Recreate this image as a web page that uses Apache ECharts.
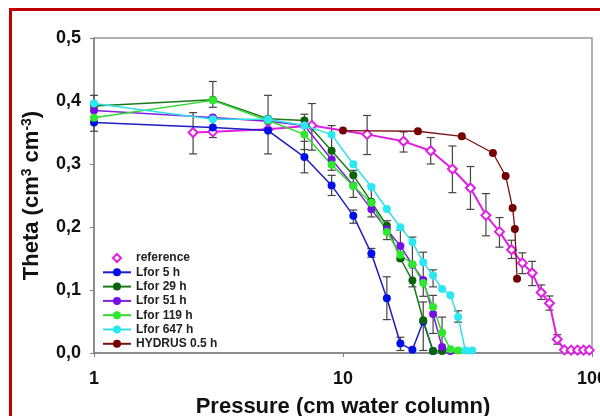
<!DOCTYPE html>
<html>
<head>
<meta charset="utf-8">
<script src="https://cdn.jsdelivr.net/npm/echarts@6/dist/echarts.min.js"></script>
<style>
  html, body { margin: 0; padding: 0; background: #fff; }
  #frame {
    position: absolute; left: 9px; top: 8px; width: 620px; height: 440px;
    border-left: 3px solid #c00000; border-top: 3px solid #c00000;
  }
  #main { position: absolute; left: 0; top: 0; width: 600px; height: 416px; }
</style>
</head>
<body>
<div id="frame"></div>
<div id="main"></div>
<script>
// pressure (cm water column) / theta (cm3 cm-3)
var refX = [2.5, 3, 5, 7.5, 12.5, 17.5, 22.5, 27.5, 32.5, 37.5, 42.5, 47.5, 52.5, 57.5, 62.5, 67.5, 72.5, 77.5, 82.5, 87.5, 92.5, 97.5];
var refY = [0.350, 0.351, 0.355, 0.361, 0.347, 0.336, 0.321, 0.292, 0.262, 0.2185, 0.1926, 0.164, 0.143, 0.127, 0.096, 0.079, 0.0217, 0.005, 0.0045, 0.0045, 0.0045, 0.0045];

var lfor5X = [1, 3, 5, 7, 9, 11, 13, 15, 17, 19, 21, 23];
var lfor5Y = [0.366, 0.358, 0.353, 0.311, 0.266, 0.218, 0.158, 0.087, 0.015, 0.005, 0.050, 0.003];

var lfor29X = [1, 3, 5, 7, 9, 11, 13, 15, 17, 19, 21, 23, 25];
var lfor29Y = [0.392, 0.402, 0.372, 0.369, 0.321, 0.282, 0.240, 0.202, 0.150, 0.115, 0.052, 0.003, 0.003];

var lfor51X = [1, 3, 5, 7, 9, 11, 13, 15, 17, 19, 21, 23, 25, 27];
var lfor51Y = [0.385, 0.374, 0.368, 0.361, 0.307, 0.266, 0.228, 0.196, 0.170, 0.140, 0.116, 0.062, 0.0095, 0.003];

var lfor119X = [1, 3, 5, 7, 9, 11, 13, 15, 17, 19, 21, 23, 25, 27, 29];
var lfor119Y = [0.3735, 0.401, 0.369, 0.347, 0.299, 0.265, 0.2386, 0.192, 0.156, 0.141, 0.111, 0.073, 0.032, 0.006, 0.004];

var lfor647X = [1, 3, 5, 7, 9, 11, 13, 15, 17, 19, 21, 23, 25, 27, 29, 31, 33];
var lfor647Y = [0.396, 0.371, 0.371, 0.361, 0.3466, 0.2995, 0.2635, 0.2286, 0.1995, 0.176, 0.144, 0.123, 0.1016, 0.0915, 0.057, 0.004, 0.004];

var hydrusX = [10, 20, 30, 40, 45, 48, 49, 50];
var hydrusY = [0.353, 0.352, 0.344, 0.3175, 0.281, 0.230, 0.197, 0.118];

// error bars: [pressure, low, high]
var errBars = [
  [1, 0.352, 0.409], [2.5, 0.316, 0.3815], [3, 0.390, 0.431], [3, 0.342, 0.375],
  [5, 0.316, 0.409], [7, 0.286, 0.336], [7, 0.323, 0.379], [7.5, 0.322, 0.396],
  [9, 0.250, 0.282], [9, 0.290, 0.361], [11, 0.247, 0.290], [11, 0.206, 0.227],
  [12.5, 0.315, 0.377], [13, 0.216, 0.266], [13, 0.152, 0.166],
  [15, 0.180, 0.210], [15, 0.053, 0.121], [17, 0.147, 0.195], [17, 0.004, 0.025],
  [17.5, 0.319, 0.351], [19, 0.105, 0.184], [21, 0.004, 0.081], [21, 0.090, 0.160],
  [22.5, 0.300, 0.342], [23, 0.031, 0.0915], [23, 0.105, 0.132], [25, 0.004, 0.057],
  [27.5, 0.2545, 0.3286], [29, 0.049, 0.067], [32.5, 0.228, 0.296], [37.5, 0.186, 0.253],
  [42.5, 0.168, 0.215], [47.5, 0.150, 0.179], [52.5, 0.126, 0.159], [57.5, 0.107, 0.1455],
  [62.5, 0.085, 0.108], [67.5, 0.068, 0.0905], [72.5, 0.014, 0.029]
];

var yTicks = [0, 0.1, 0.2, 0.3, 0.4, 0.5];

function pts(xs, ys) {
  return xs.map(function (x, i) { return [x, ys[i]]; });
}

function lfor(name, xs, ys, lineColor, dotColor) {
  return {
    name: name,
    type: "line",
    data: pts(xs, ys),
    symbol: "circle",
    symbolSize: 8,
    z: 3,
    lineStyle: { color: lineColor, width: 1.5 },
    itemStyle: { color: dotColor },
  };
}

var myChart = echarts.init(document.getElementById("main"));
var option = {
  animation: false,
  backgroundColor: "transparent",
  grid: {
    left: 94, right: 8, top: 38, bottom: 63,
    outerBoundsMode: "none",
    containLabel: false,
    show: true, borderColor: "#9a9a9a", borderWidth: 1.5,
  },
  legend: {
    orient: "vertical",
    left: 102,
    top: 252,
    padding: 0,
    itemWidth: 28,
    itemHeight: 10,
    itemGap: 2.3,
    textStyle: { color: "#222", fontSize: 12, fontWeight: "bold", fontFamily: "Liberation Sans" },
    data: [
      {
        name: "reference",
        // diamond centred in a 28x10 box so it is not stretched
        icon: "path://M0,5 M28,5 M14,1 L18,5 L14,9 L10,5 Z",
        itemStyle: { color: "#fff", borderColor: "#e020e0", borderWidth: 2 },
      },
      "Lfor 5 h", "Lfor 29 h", "Lfor 51 h", "Lfor 119 h", "Lfor 647 h", "HYDRUS 0.5 h",
    ],
  },
  xAxis: {
    type: "log",
    logBase: 10,
    min: 1,
    max: 100,
    name: "Pressure (cm water column)",
    nameLocation: "middle",
    nameGap: 43,
    nameTextStyle: { color: "#111", fontSize: 22, fontWeight: "bold", fontFamily: "Liberation Sans" },
    axisLine: { lineStyle: { color: "#808080", width: 1.5 } },
    axisTick: { length: 4, lineStyle: { color: "#808080" } },
    minorTick: { show: false },
    splitLine: { show: false },
    axisLabel: { margin: 17, color: "#111", fontSize: 18, fontWeight: "bold", fontFamily: "Liberation Sans" },
  },
  yAxis: {
    type: "value",
    min: yTicks[0],
    max: yTicks[yTicks.length - 1],
    interval: 0.1,
    name: "{a|Theta (cm}{s|3}{a| cm}{s|-3}{a|)}",
    nameLocation: "middle",
    nameGap: 50,
    nameTextStyle: {
      rich: {
        a: { color: "#111", fontSize: 22, fontWeight: "bold", fontFamily: "Liberation Sans", lineHeight: 24 },
        s: { color: "#111", fontSize: 14, fontWeight: "bold", fontFamily: "Liberation Sans", lineHeight: 14, verticalAlign: "top" },
      },
    },
    axisLine: { show: true, lineStyle: { color: "#808080", width: 1.5 } },
    axisTick: { show: true, length: 4, lineStyle: { color: "#808080" } },
    splitLine: { show: false },
    axisLabel: {
      margin: 13,
      color: "#111", fontSize: 18, fontWeight: "bold", fontFamily: "Liberation Sans",
      formatter: function (v) { return v.toFixed(1).replace(".", ","); },
    },
  },
  series: [
    {
      name: "errors",
      type: "custom",
      z: 1,
      data: errBars,
      encode: { x: 0, y: [1, 2] },
      renderItem: function (params, api) {
        var x = api.value(0);
        var lo = api.coord([x, api.value(1)]);
        var hi = api.coord([x, api.value(2)]);
        var w = 4;
        var st = { stroke: "#444", lineWidth: 1.2 };
        return {
          type: "group",
          children: [
            { type: "line", shape: { x1: lo[0], y1: lo[1], x2: hi[0], y2: hi[1] }, style: st },
            { type: "line", shape: { x1: lo[0] - w, y1: lo[1], x2: lo[0] + w, y2: lo[1] }, style: st },
            { type: "line", shape: { x1: hi[0] - w, y1: hi[1], x2: hi[0] + w, y2: hi[1] }, style: st },
          ],
        };
      },
    },
    {
      name: "reference",
      type: "line",
      data: pts(refX, refY),
      symbol: "diamond",
      symbolSize: 9,
      z: 2,
      lineStyle: { color: "#e020e0", width: 2 },
      itemStyle: { color: "#fff", borderColor: "#e020e0", borderWidth: 2 },
    },
    lfor("Lfor 5 h", lfor5X, lfor5Y, "#1c1cc8", "#0010e8"),
    lfor("Lfor 29 h", lfor29X, lfor29Y, "#1a7a1a", "#0b640b"),
    lfor("Lfor 51 h", lfor51X, lfor51Y, "#8020e0", "#7410e6"),
    lfor("Lfor 119 h", lfor119X, lfor119Y, "#30d830", "#2ee82e"),
    lfor("Lfor 647 h", lfor647X, lfor647Y, "#30e0e8", "#2ae8f2"),
    {
      name: "HYDRUS 0.5 h",
      type: "line",
      data: pts(hydrusX, hydrusY),
      symbol: "circle",
      symbolSize: 8,
      z: 3,
      lineStyle: { color: "#7a1010", width: 1.3 },
      itemStyle: { color: "#760000" },
    },
  ],
};
myChart.setOption(option);
</script>
</body>
</html>
